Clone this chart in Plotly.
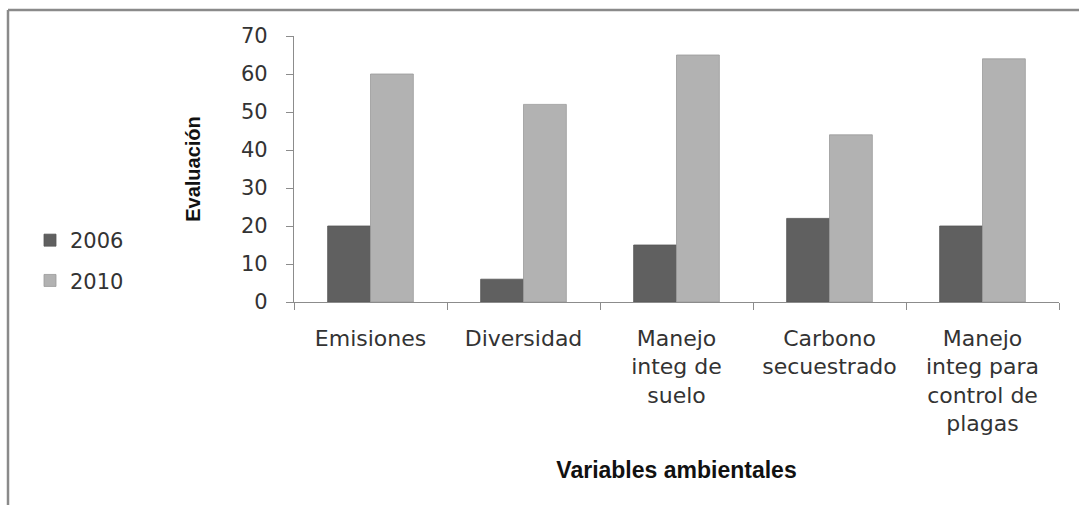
import plotly.graph_objects as go

# Environmental variables evaluated in each survey year
categorias = [
    "Emisiones",
    "Diversidad",
    "Manejo<br>integ de<br>suelo",
    "Carbono<br>secuestrado",
    "Manejo<br>integ para<br>control de<br>plagas",
]
anios = ["2006", "2010"]
valores_2006 = [20, 6, 15, 22, 20]
valores_2010 = [60, 52, 65, 44, 64]
y_ticks = [0, 10, 20, 30, 40, 50, 60, 70]

W, H = 1079, 505
PL, PR, PT, PB = 294, 20, 36, 203  # plot area: x 294-1059, y 36-302
plot_w = W - PL - PR
plot_h = H - PT - PB


def px_x(px):
    return (px - PL) / plot_w


def px_y(py):
    return (H - PB - py) / plot_h


xtick_font = dict(family="DejaVu Sans, Verdana, sans-serif", size=22, color="#333333")
ytick_font = dict(family="DejaVu Sans, Verdana, sans-serif", size=21, color="#333333")
legend_font = dict(family="DejaVu Sans, Verdana, sans-serif", size=21, color="#333333")
xtitle_font = dict(family="Liberation Sans Narrow, Arial Narrow, Liberation Sans, sans-serif",
                   size=23, color="#111111")
ytitle_font = dict(family="Liberation Sans Narrow, Arial Narrow, Liberation Sans, sans-serif",
                   size=20, color="#111111")

fig = go.Figure()
fig.add_trace(go.Bar(
    x=categorias, y=valores_2006, name=anios[0], legendgroup="a",
    marker=dict(color="#606060", line=dict(color="#555555", width=0.8)),
))
fig.add_trace(go.Bar(
    x=categorias, y=valores_2010, name=anios[1], legendgroup="b",
    marker=dict(color="#b2b2b2", line=dict(color="#9a9a9a", width=0.8)),
))

fig.update_layout(
    width=W, height=H,
    margin=dict(l=PL, r=PR, t=PT, b=PB, autoexpand=False),
    paper_bgcolor="white", plot_bgcolor="white",
    barmode="group", bargap=0.44, bargroupgap=0,
    showlegend=True,
    legend=dict(
        x=px_x(30), y=px_y(220), xanchor="left", yanchor="top",
        font=legend_font, traceorder="grouped", tracegroupgap=10,
        bgcolor="rgba(0,0,0,0)",
    ),
    xaxis=dict(
        showline=True, linecolor="#8c8c8c", linewidth=1.2,
        ticks="outside", tickson="boundaries", ticklen=7, tickcolor="#8c8c8c",
        tickfont=xtick_font, showgrid=False, ticklabelstandoff=16,
        title=dict(text="<b>Variables ambientales</b>", font=xtitle_font, standoff=26),
        range=[-0.5, 4.5],
    ),
    yaxis=dict(
        range=[0, 70], tickvals=y_ticks,
        showline=True, linecolor="#8c8c8c", linewidth=1.2,
        ticks="outside", ticklen=7, tickcolor="#8c8c8c",
        tickfont=ytick_font, showgrid=False, zeroline=False, ticklabelstandoff=14,
        title=dict(text="<b>Evaluación</b>", font=ytitle_font, standoff=34),
    ),
)

# Frame lines along the top and left edges of the figure
frame = dict(color="#8a8a8a", width=2.5)
fig.add_shape(type="line", xref="paper", yref="paper",
              x0=px_x(8), x1=px_x(W), y0=px_y(10), y1=px_y(10), line=frame)
fig.add_shape(type="line", xref="paper", yref="paper",
              x0=px_x(8), x1=px_x(8), y0=px_y(10), y1=px_y(H), line=frame)

fig.write_html("out.html")
